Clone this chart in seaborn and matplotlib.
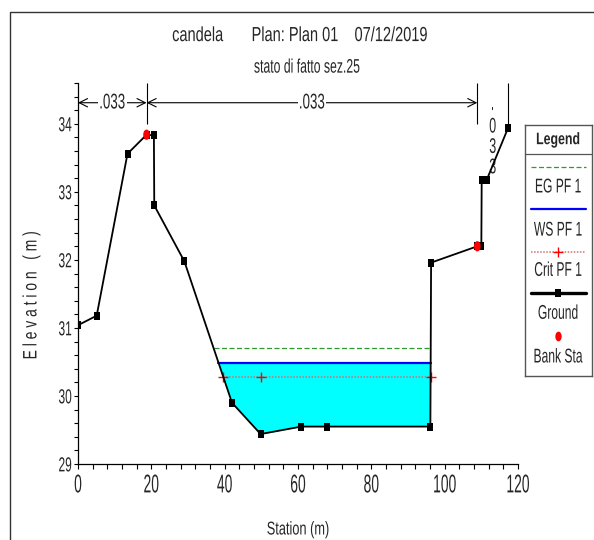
import numpy as np
import matplotlib
matplotlib.use("Agg")
import matplotlib.pyplot as plt
import seaborn as sns
from matplotlib.patches import Rectangle
from matplotlib.ticker import MultipleLocator
from matplotlib.patheffects import AbstractPathEffect
from matplotlib.transforms import Affine2D

# Cross section "stato di fatto sez.25"
station = [0.0, 5.1, 13.5, 18.7, 20.7, 20.8, 29.0, 42.0, 49.8, 60.9, 67.9,
           96.1, 96.3, 108.9, 110.0, 110.1, 111.5, 117.3]
elevation = [31.04, 31.18, 33.56, 33.84, 33.83, 32.80, 31.98, 29.90, 29.44,
             29.55, 29.55, 29.55, 31.96, 32.20, 32.20, 33.18, 33.18, 33.94]
bank_sta = [18.7, 108.9]
bank_elev = [33.84, 32.20]

# Profile PF 1 levels
eg_pf1 = 30.70
ws_pf1 = 30.49
crit_pf1 = 30.28
crit_mark_sta = [50.0]

# Manning n regions
n_breaks = [0.0, 18.7, 108.9, 117.3]
n_values = [".033", ".033", ".033"]

x_ticks = [0, 20, 40, 60, 80, 100, 120]
y_ticks = [29, 30, 31, 32, 33, 34]

sns.set_style("ticks")
plt.rcParams["font.family"] = ["Liberation Sans", "DejaVu Sans"]

W, H = 594, 540
fig = plt.figure(figsize=(W / 100, H / 100), dpi=100)
fig.patch.set_facecolor("white")


class Tall(AbstractPathEffect):
    """Draw text glyphs stretched along the text's own vertical direction
    (a narrow, tall lettering)."""

    def __init__(self, factor, axis="y"):
        super().__init__()
        self.factor = factor
        self.axis = axis

    def draw_path(self, renderer, gc, tpath, affine, rgbFace=None):
        ext = tpath.get_extents(affine)
        cx = (ext.x0 + ext.x1) / 2
        cy = (ext.y0 + ext.y1) / 2
        sx, sy = (1, self.factor) if self.axis == "y" else (self.factor, 1)
        stretch = Affine2D().translate(-cx, -cy).scale(sx, sy).translate(cx, cy)
        renderer.draw_path(gc, tpath, affine + stretch, rgbFace)


def fx(px):
    return px / W


def fy(py):
    return 1 - py / H


ax = fig.add_axes([fx(78), fy(464), fx(518 - 78), (464 - 83) / H])
ax.set_facecolor("white")

gx = np.asarray(station)
gz = np.asarray(elevation)


def wetted_edges(level):
    idx = np.where(gz < level)[0]
    i0, i1 = idx[0], idx[-1]
    xl = gx[i0 - 1] + (level - gz[i0 - 1]) * (gx[i0] - gx[i0 - 1]) / (gz[i0] - gz[i0 - 1])
    xr = gx[i1] + (level - gz[i1]) * (gx[i1 + 1] - gx[i1]) / (gz[i1 + 1] - gz[i1])
    return xl, xr


# water body
ax.fill_between(gx, gz, ws_pf1, where=gz < ws_pf1, interpolate=True,
                color="#00FFFF", lw=0, zorder=1)

# energy grade, water surface, critical depth
l, r = wetted_edges(eg_pf1)
ax.plot([l, r], [eg_pf1, eg_pf1], color="#2f9a2f", lw=0.9, ls=(0, (4, 2)), zorder=2)
l, r = wetted_edges(ws_pf1)
ax.plot([l, r], [ws_pf1, ws_pf1], color="#0000FF", lw=1.6, zorder=3)
l, r = wetted_edges(crit_pf1)
ax.plot([l, r], [crit_pf1, crit_pf1], color="#d07070", lw=1.1, ls=(0, (1, 1)), zorder=3)
cx = [l] + crit_mark_sta + [r]
ax.plot(cx, [crit_pf1] * len(cx), ls="none", marker="+", color="red",
        ms=7, mew=1.0, zorder=4)

# ground profile
rect_marker = [(-0.62, -1), (0.62, -1), (0.62, 1), (-0.62, 1), (-0.62, -1)]
sns.lineplot(x=station, y=elevation, ax=ax, color="black", lw=1.3,
             marker=rect_marker, markersize=6, markeredgewidth=0,
             markerfacecolor="black", estimator=None, sort=False, zorder=5)

# bank stations
t = np.linspace(0, 2 * np.pi, 40)
ellipse_marker = list(zip(0.65 * np.cos(t), np.sin(t)))
sns.scatterplot(x=bank_sta, y=bank_elev, ax=ax, marker=ellipse_marker,
                s=55, color="red", edgecolor="none", zorder=6)

ax.set_xlim(0, 120)
ax.set_ylim(29, 34.6)
ax.set_xticks(x_ticks)
ax.set_yticks(y_ticks)
ax.xaxis.set_minor_locator(MultipleLocator(4))
ax.yaxis.set_minor_locator(MultipleLocator(0.2))
ax.tick_params(axis="x", which="both", direction="out", length=3.6, width=0.8,
               labelsize=10, pad=6.0, color="black")
ax.tick_params(axis="y", which="both", direction="out", length=3.0, width=0.8,
               labelsize=8.6, pad=1.5, color="black")
for lab in ax.get_xticklabels():
    lab.set_path_effects([Tall(1.85)])
for lab in ax.get_yticklabels():
    lab.set_path_effects([Tall(1.7)])
ax.set_xlabel("")
ax.set_ylabel("")
for s in ["top", "right"]:
    ax.spines[s].set_visible(False)
for s in ["left", "bottom"]:
    ax.spines[s].set_color("black")
    ax.spines[s].set_linewidth(0.9)

# Manning n annotations
y_n = 34.31
for i, n in enumerate(n_values):
    a, b = n_breaks[i], n_breaks[i + 1]
    if b - a > 15:
        ax.annotate("", xy=(b, y_n), xytext=(a, y_n),
                    arrowprops=dict(arrowstyle="<->,head_length=0.6,head_width=0.3",
                                    lw=0.8, color="black", shrinkA=0, shrinkB=0,
                                    mutation_scale=10), zorder=2)
        ax.text((a + b) / 2, y_n, n, ha="center", va="center", fontsize=9.6,
                bbox=dict(fc="white", ec="none", pad=1.0), zorder=3,
                path_effects=[Tall(1.6)])
    else:
        ax.text((a + b) / 2, 33.81, "\n".join(n), ha="center", va="center",
                fontsize=9, linespacing=1.93, zorder=3,
                path_effects=[Tall(1.7)])
for xb in n_breaks[1:]:
    ax.vlines(xb, 34.0, 34.6, color="black", lw=0.8, zorder=2)

# titles
fig.text(fx(301), fy(35), "candela       Plan: Plan 01    07/12/2019",
         ha="center", va="center", fontsize=10.5, path_effects=[Tall(1.4)])
fig.text(fx(307), fy(67), "stato di fatto sez.25", ha="center", va="center",
         fontsize=8.8, path_effects=[Tall(1.6)])
fig.text(fx(31), fy(295), "E l e v a t i o n   ( m )", rotation=90,
         ha="center", va="center", fontsize=10, path_effects=[Tall(1.4, "x")])
fig.text(fx(298), fy(530), "Station (m)", ha="center", va="center",
         fontsize=9.2, path_effects=[Tall(1.45)])

# legend panel
lax = fig.add_axes([fx(524.7), fy(376), 67 / W, 251 / H])
lax.set_xlim(0, 1)
lax.set_ylim(0, 1)
lax.set_xticks([])
lax.set_yticks([])
for s in lax.spines.values():
    s.set_color("#555555")
    s.set_linewidth(1)
lax.axhline(0.884, color="#555555", lw=0.9)
lax.text(0.5, 0.94, "Legend", weight="bold", ha="center", va="center",
         fontsize=8.9, path_effects=[Tall(1.35)])
lx = [0.094, 0.915]
leg_kw = dict(ha="center", va="center", fontsize=8.7, path_effects=[Tall(1.65)])
lax.plot(lx, [0.834] * 2, color="#2f9a2f", lw=0.9, ls=(0, (4, 2)))
lax.text(0.5, 0.754, "EG PF 1", **leg_kw)
lax.plot(lx, [0.664] * 2, color="#0000FF", lw=1.6)
lax.text(0.5, 0.582, "WS PF 1", **leg_kw)
lax.plot(lx, [0.495] * 2, color="#d07070", lw=1.1, ls=(0, (1, 1)))
lax.plot([0.5], [0.495], marker="+", color="red", ms=7, mew=1.0)
lax.text(0.5, 0.422, "Crit PF 1", **leg_kw)
lax.plot(lx, [0.332] * 2, color="black", lw=2.4)
lax.plot([0.5], [0.332], marker=rect_marker, color="black", ms=6, mew=0)
lax.text(0.5, 0.251, "Ground", **leg_kw)
lax.plot([0.5], [0.159], marker=ellipse_marker, color="red", ms=7, mew=0)
lax.text(0.5, 0.077, "Bank Sta", **leg_kw)

# outer frame
fig.add_artist(Rectangle((fx(10), -0.1), 1.5, fy(11.7) + 0.1,
                         transform=fig.transFigure, fill=False,
                         ec="#333333", lw=1.0))

fig.savefig("out.png", dpi=100)
